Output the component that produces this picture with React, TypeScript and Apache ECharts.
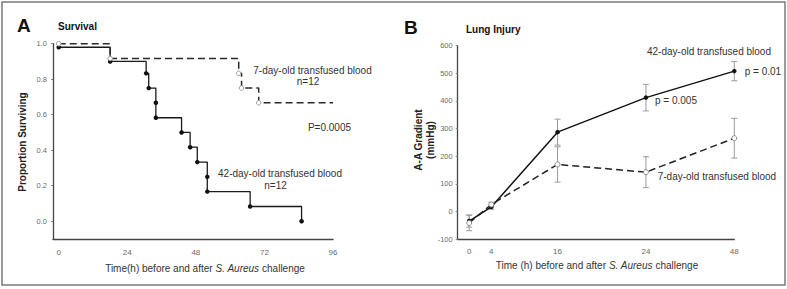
import React, { useEffect, useRef } from "react";
import * as echarts from "echarts";

// ---- Panel A: Kaplan–Meier survival ----
const survTicksX = [0, 24, 48, 72, 96];
const survTicksY = [0, 0.2, 0.4, 0.6, 0.8, 1.0];
const old42Times = [0, 18, 30.6, 31.5, 34, 34, 43, 46, 48.5, 52, 52, 67, 85];
const old42Surv = [0.98, 0.9, 0.833, 0.75, 0.667, 0.583, 0.5, 0.417, 0.333, 0.25, 0.167, 0.083, 0];
const fresh7Times = [0, 18, 63, 64, 70, 96];
const fresh7Surv = [1.0, 0.917, 0.833, 0.75, 0.667, 0.667];
const fresh7Censor = [true, true, true, true, true, false];

// ---- Panel B: lung injury ----
const timeLabels = ["0", "4", "16", "24", "48"];
const timeSlots = [0, 0.25, 1, 2, 3];
const old42Mean = [-35, 16, 287, 412, 508];
const old42Err = [22, 8, 47, 48, 35];
const fresh7Mean = [-42, 25, 170, 142, 265];
const fresh7Err = [28, 8, 64, 56, 72];
const gradTicks = [-100, 0, 100, 200, 300, 400, 500, 600];

const FONT = "'Liberation Sans', Arial, Helvetica, sans-serif";

function errorBarSeries(xAxisIndex: number, yAxisIndex: number, data: number[][]) {
  return {
    type: "custom",
    xAxisIndex,
    yAxisIndex,
    z: 1,
    encode: { x: 0, y: 1 },
    data,
    renderItem: (_params: any, api: any) => {
      const x = api.value(0);
      const y = api.value(1);
      const e = api.value(2);
      const top = api.coord([x, y + e]);
      const bot = api.coord([x, y - e]);
      const style = { stroke: "#9a9a9a", lineWidth: 1 };
      const w = 3;
      return {
        type: "group",
        children: [
          { type: "line", shape: { x1: top[0], y1: top[1], x2: bot[0], y2: bot[1] }, style },
          { type: "line", shape: { x1: top[0] - w, y1: top[1], x2: top[0] + w, y2: top[1] }, style },
          { type: "line", shape: { x1: bot[0] - w, y1: bot[1], x2: bot[0] + w, y2: bot[1] }, style },
        ],
      };
    },
  };
}

function txt(x: number, y: number, text: string, opts: any = {}) {
  return {
    type: "text",
    x,
    y,
    rotation: opts.rotation || 0,
    style: {
      text,
      fontFamily: FONT,
      fontSize: opts.size || 10,
      fontWeight: opts.weight || "normal",
      fill: opts.color || "#333",
      align: opts.align || "center",
      verticalAlign: "middle",
      lineHeight: opts.lineHeight,
      rich: opts.rich,
    },
  };
}

const axisLineStyle = { onZero: false, lineStyle: { color: "#444", width: 1.3 } };
const tickLabel = { color: "#6a6a6a", fontSize: 7.5, fontFamily: FONT };

export default function App() {
  const ref = useRef<HTMLDivElement>(null);
  useEffect(() => {
    document.body.style.margin = "0";
    if (!ref.current) return;
    const chart = echarts.init(ref.current, undefined, { renderer: "svg" });

    const rich = {
      n: { fontFamily: FONT, fontSize: 10, fill: "#333", color: "#333" },
      i: { fontFamily: FONT, fontSize: 10, fontStyle: "italic", fill: "#333", color: "#333" },
    };

    chart.setOption({
      animation: false,
      backgroundColor: "#fff",
      grid: [
        { left: 53, top: 43.7, width: 280, height: 195.3 },
        { left: 457.7, top: 45.7, width: 276.6, height: 193.3 },
      ],
      xAxis: [
        {
          type: "value",
          gridIndex: 0,
          min: -2,
          max: 96,
          axisLine: axisLineStyle,
          axisTick: { show: false },
          splitLine: { show: false },
          axisLabel: { ...tickLabel, fontSize: 8, margin: 9, customValues: survTicksX },
        },
        {
          type: "value",
          gridIndex: 1,
          min: -0.13,
          max: 3,
          axisLine: axisLineStyle,
          axisTick: { show: false },
          splitLine: { show: false },
          axisLabel: {
            ...tickLabel,
            fontSize: 8,
            margin: 8,
            customValues: timeSlots,
            formatter: (v: number) => {
              const i = timeSlots.findIndex((s) => Math.abs(s - v) < 1e-6);
              return i >= 0 ? timeLabels[i] : "";
            },
          },
        },
      ],
      yAxis: [
        {
          type: "value",
          gridIndex: 0,
          min: -0.1,
          max: 1.0,
          axisLine: { show: true, ...axisLineStyle },
          axisTick: { show: true, length: 2, lineStyle: { color: "#888" }, customValues: survTicksY },
          splitLine: { show: false },
          axisLabel: {
            ...tickLabel,
            margin: 6,
            customValues: survTicksY,
            formatter: (v: number) => v.toFixed(1),
          },
        },
        {
          type: "value",
          gridIndex: 1,
          min: -100,
          max: 600,
          interval: 100,
          axisLine: { show: true, ...axisLineStyle },
          axisTick: { show: true, length: 2, lineStyle: { color: "#888" }, customValues: gradTicks },
          splitLine: { show: false },
          axisLabel: { ...tickLabel, margin: 5 },
        },
      ],
      series: [
        {
          name: "42-day KM",
          type: "line",
          xAxisIndex: 0,
          yAxisIndex: 0,
          step: "end",
          data: old42Times.map((t, i) => [t, old42Surv[i]]),
          symbol: "circle",
          symbolSize: 4.5,
          showAllSymbol: true,
          lineStyle: { color: "#1a1a1a", width: 1.3 },
          itemStyle: { color: "#111" },
          z: 3,
        },
        {
          name: "7-day KM",
          type: "line",
          xAxisIndex: 0,
          yAxisIndex: 0,
          step: "end",
          data: fresh7Times.map((t, i) => ({
            value: [t, fresh7Surv[i]],
            symbol: fresh7Censor[i] ? "circle" : "none",
          })),
          symbol: "circle",
          symbolSize: 4.5,
          showAllSymbol: true,
          lineStyle: { color: "#2a2a2a", width: 1.5, type: [7, 4] },
          itemStyle: { color: "#fff", borderColor: "#9a9a9a", borderWidth: 1 },
          z: 4,
        },
        errorBarSeries(1, 1, timeSlots.map((s, i) => [s, old42Mean[i], old42Err[i]])),
        errorBarSeries(1, 1, timeSlots.map((s, i) => [s, fresh7Mean[i], fresh7Err[i]])),
        {
          name: "42-day gradient",
          type: "line",
          xAxisIndex: 1,
          yAxisIndex: 1,
          data: timeSlots.map((s, i) => [s, old42Mean[i]]),
          symbol: "circle",
          symbolSize: 4.5,
          lineStyle: { color: "#111", width: 1.5 },
          itemStyle: { color: "#111" },
          z: 3,
        },
        {
          name: "7-day gradient",
          type: "line",
          xAxisIndex: 1,
          yAxisIndex: 1,
          data: timeSlots.map((s, i) => [s, fresh7Mean[i]]),
          symbol: "circle",
          symbolSize: 5,
          lineStyle: { color: "#222", width: 1.5, type: [7, 4] },
          itemStyle: { color: "#fff", borderColor: "#8a8a8a", borderWidth: 1 },
          z: 4,
        },
      ],
      graphic: [
        {
          type: "rect",
          shape: { x: 2, y: 2, width: 783, height: 283 },
          style: { fill: "none", stroke: "#7a7a7a", lineWidth: 1.5 },
        },
        txt(17, 25, "A", { size: 19, weight: "bold", align: "left", color: "#111" }),
        txt(58, 26, "Survival", { weight: "bold", align: "left", color: "#111" }),
        txt(404, 27, "B", { size: 19, weight: "bold", align: "left", color: "#111" }),
        txt(466, 29, "Lung Injury", { weight: "bold", align: "left", color: "#111" }),
        txt(22, 142, "Proportion Surviving", { weight: "bold", rotation: Math.PI / 2, color: "#222" }),
        txt(424.5, 140, "A-A Gradient\n(mmHg)", {
          weight: "bold",
          rotation: Math.PI / 2,
          color: "#222",
          lineHeight: 11.5,
        }),
        txt(205, 268, "{n|Time(h) before and after }{i|S. Aureus}{n| challenge}", { rich }),
        txt(597, 265, "{n|Time (h) before and after }{i|S. Aureus}{n| challenge}", { rich }),
        txt(312.5, 70, "7-day-old transfused blood"),
        txt(308, 81.5, "n=12"),
        txt(329.5, 127.7, "P=0.0005"),
        txt(280, 173.3, "42-day-old transfused blood"),
        txt(275.5, 185, "n=12"),
        txt(647, 51.7, "42-day-old transfused blood", { align: "left" }),
        txt(744.7, 71, "p = 0.01", { align: "left" }),
        txt(655, 100.3, "p = 0.005", { align: "left" }),
        txt(657.7, 176.7, "7-day-old transfused blood", { align: "left" }),
      ],
    });
    return () => chart.dispose();
  }, []);
  return <div ref={ref} style={{ width: 787, height: 289 }} />;
}
